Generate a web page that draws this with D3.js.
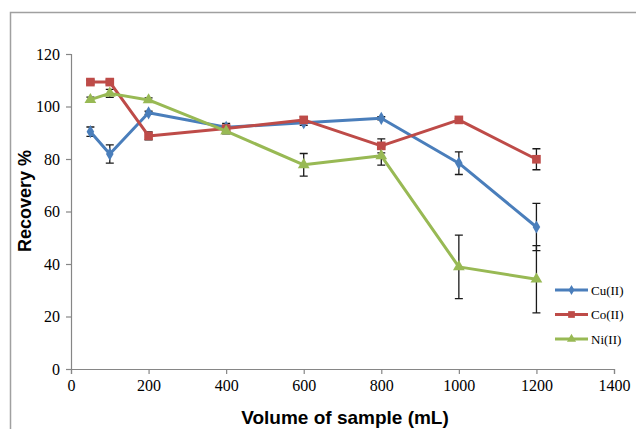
<!DOCTYPE html>
<html>
<head>
<meta charset="utf-8">
<script src="https://cdn.jsdelivr.net/npm/d3@7"></script>
<style>
  body { margin: 0; background: #fff; }
  svg { display: block; }
</style>
</head>
<body>
<div id="root"></div>
<script>
// data
var volumes = [50, 100, 200, 400, 600, 800, 1000, 1200];
var cuValues = [90.4, 81.9, 97.6, 92.1, 93.8, 95.5, 78.4, 54.1];
var cuErrors = [1.8, 3.5, 0.6, 1.5, 1.0, 0.6, 4.3, 9.0];
var coValues = [109.3, 109.3, 88.8, 91.6, 94.9, 85.0, 94.9, 79.9];
var coErrors = [0.8, 0.8, 1.5, 1.0, 1.2, 2.7, 0.5, 4.0];
var niValues = [102.6, 105.0, 102.5, 90.6, 77.8, 81.2, 38.9, 34.2];
var niErrors = [1.0, 1.5, 0.8, 1.0, 4.3, 3.5, 12.1, 12.8];
var xTicks = [0, 200, 400, 600, 800, 1000, 1200, 1400];
var yTicks = [0, 20, 40, 60, 80, 100, 120];

var series = [
    { name: "Cu(II)", values: cuValues, errors: cuErrors, color: "#4a7ebb", symbol: d3.symbolDiamond, size: 50 },
    { name: "Co(II)", values: coValues, errors: coErrors, color: "#be4b48", symbol: d3.symbolSquare, size: 75 },
    { name: "Ni(II)", values: niValues, errors: niErrors, color: "#98b954", symbol: d3.symbolTriangle, size: 60 }
];

var width = 636, height = 429;

var svg = d3.select("#root")
    .append("svg")
    .attr("width", width)
    .attr("height", height);

// outer chart border (partly off page)
svg.append("path")
    .attr("d", "M10.5," + height + "V12.5H" + width)
    .attr("fill", "none")
    .attr("stroke", "#a0a0a0")
    .attr("stroke-width", 1.5);

var x = d3.scaleLinear().domain([0, 1400]).range([71, 614]);
var y = d3.scaleLinear().domain([0, 120]).range([369, 54]);

var xAxis = svg.append("g")
    .attr("transform", "translate(0,369)")
    .call(d3.axisBottom(x).tickValues(xTicks).tickFormat(d3.format("d")).tickSize(5).tickPadding(6));

var yAxis = svg.append("g")
    .attr("transform", "translate(71,0)")
    .call(d3.axisLeft(y).tickValues(yTicks).tickFormat(d3.format("d")).tickSize(5).tickPadding(6));

[xAxis, yAxis].forEach(function (g) {
    g.attr("font-family", "'Liberation Serif', 'Times New Roman', serif");
    g.select(".domain").attr("stroke", "#868686").attr("stroke-width", 1.2);
    g.selectAll(".tick line").attr("stroke", "#868686").attr("stroke-width", 1.2);
    g.selectAll(".tick text")
        .attr("fill", "#000")
        .style("font-family", "'Liberation Serif', 'Times New Roman', serif")
        .style("font-size", "16px");
});

// axis titles
svg.append("text")
    .attr("x", 345)
    .attr("y", 424)
    .attr("text-anchor", "middle")
    .style("font-family", "'Liberation Sans', Arial, sans-serif")
    .style("font-weight", "bold")
    .style("font-size", "19px")
    .text("Volume of sample (mL)");

svg.append("text")
    .attr("transform", "translate(31,201) rotate(-90)")
    .attr("text-anchor", "middle")
    .style("font-family", "'Liberation Sans', Arial, sans-serif")
    .style("font-weight", "bold")
    .style("font-size", "18px")
    .text("Recovery %");

var line = d3.line()
    .x(function (d, i) { return x(volumes[i]); })
    .y(function (d) { return y(d); });

// error bars
series.forEach(function (s) {
    var g = svg.append("g");
    s.values.forEach(function (v, i) {
        var cx = x(volumes[i]);
        var top = y(v + s.errors[i]);
        var bot = y(v - s.errors[i]);
        g.append("path")
            .attr("d", "M" + cx + "," + top + "V" + bot +
                "M" + (cx - 4) + "," + top + "H" + (cx + 4) +
                "M" + (cx - 4) + "," + bot + "H" + (cx + 4))
            .attr("fill", "none")
            .attr("stroke", "#1a1a1a")
            .attr("stroke-width", 1.3);
    });
});

// lines and markers
series.forEach(function (s) {
    svg.append("path")
        .datum(s.values)
        .attr("d", line)
        .attr("fill", "none")
        .attr("stroke", s.color)
        .attr("stroke-width", 3)
        .attr("stroke-linejoin", "round");

    svg.selectAll(null)
        .data(s.values)
        .enter()
        .append("path")
        .attr("d", d3.symbol().type(s.symbol).size(s.size))
        .attr("transform", function (d, i) {
            return "translate(" + x(volumes[i]) + "," + y(d) + ")";
        })
        .attr("fill", s.color);
});

// legend
var legend = svg.append("g");
series.forEach(function (s, i) {
    var ly = 290 + i * 24.5;
    legend.append("line")
        .attr("x1", 555).attr("x2", 588)
        .attr("y1", ly).attr("y2", ly)
        .attr("stroke", s.color)
        .attr("stroke-width", 3);
    legend.append("path")
        .attr("d", d3.symbol().type(s.symbol).size(s.size * 0.6))
        .attr("transform", "translate(571.5," + ly + ")")
        .attr("fill", s.color);
    legend.append("text")
        .attr("x", 591)
        .attr("y", ly + 4.5)
        .style("font-family", "'Liberation Serif', 'Times New Roman', serif")
        .style("font-size", "13px")
        .text(s.name);
});
</script>
</body>
</html>
